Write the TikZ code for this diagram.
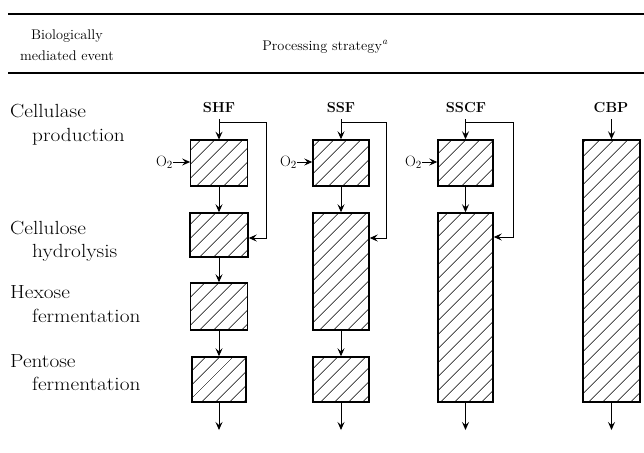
\documentclass[tikz,border=0pt]{standalone}
\usepackage{graphicx}
\usetikzlibrary{arrows.meta,patterns.meta}
\newcommand\biglbl[1]{\fontsize{19}{22}\selectfont\scalebox{1.12}[1]{#1}}
\newcommand\hdlbl[1]{\fontsize{14}{16}\selectfont\scalebox{1.03}[1]{#1}}
\tikzset{
  hatchbox/.style={draw, line width=1.4pt, inner sep=0pt,
    pattern={Lines[angle=45,distance=10.5pt,line width=0.7pt]}},
  arr/.style={line width=1pt, -{Stealth[length=8pt,width=7pt,inset=3pt]}},
  fbline/.style={line width=1pt, -{Stealth[length=8pt,width=7pt,inset=3pt]}},
  rowlbl/.style={anchor=base west, inner sep=0pt},
  strat/.style={anchor=base, inner sep=0pt, font=\fontsize{14.5}{16}\selectfont\bfseries},
  oxy/.style={anchor=east, inner sep=0pt, font=\fontsize{15}{17}\selectfont},
  rule/.style={line width=1.4pt}
}
\begin{document}
\begin{tikzpicture}[x=1pt,y=-1pt]
\useasboundingbox (0,0) rectangle (644,452);
% header rules
\coordinate (r1a) at (8,14); \coordinate (r1b) at (644,14);
\coordinate (r2a) at (8,73); \coordinate (r2b) at (644,73);
\draw[rule] (r1a) -- (r1b);
\draw[line width=1.1pt] (r2a) -- (r2b);
% header text
\node[anchor=base, inner sep=0pt] (h1) at (67,40) {\hdlbl{Biologically}};
\node[anchor=base, inner sep=0pt] (h2) at (67,60) {\hdlbl{mediated event}};
\node[anchor=base, inner sep=0pt] (h3) at (325,50) {\hdlbl{Processing strategy\textsuperscript{\itshape a}}};
% row labels
\node[rowlbl] (l1a) at (10,117) {\biglbl{Cellulase}};
\node[rowlbl] (l1b) at (32,141) {\biglbl{production}};
\node[rowlbl] (l2a) at (10,234) {\biglbl{Cellulose}};
\node[rowlbl] (l2b) at (32,257) {\biglbl{hydrolysis}};
\node[rowlbl] (l3a) at (10,298) {\biglbl{Hexose}};
\node[rowlbl] (l3b) at (32,322) {\biglbl{fermentation}};
\node[rowlbl] (l4a) at (10,367) {\biglbl{Pentose}};
\node[rowlbl] (l4b) at (32,390) {\biglbl{fermentation}};
% strategy labels
\node[strat] (tshf) at (219,112) {SHF};
\node[strat] (tssf) at (341,112) {SSF};
\node[strat] (tsscf) at (466,112) {SSCF};
\node[strat] (tcbp) at (611,112) {CBP};
% SHF boxes
\node[hatchbox, minimum width=57pt, minimum height=46pt] (s1) at (219,163) {};
\node[hatchbox, minimum width=58pt, minimum height=44pt] (s2) at (219,235) {};
\node[hatchbox, minimum width=57pt, minimum height=47pt] (s3) at (219,306.5) {};
\node[hatchbox, minimum width=54pt, minimum height=45pt] (s4) at (219,379.5) {};
% SSF boxes
\node[hatchbox, minimum width=56pt, minimum height=46pt] (f1) at (341,163) {};
\node[hatchbox, minimum width=56pt, minimum height=117pt] (f2) at (341,271.5) {};
\node[hatchbox, minimum width=56pt, minimum height=45pt] (f3) at (341,379.5) {};
% SSCF boxes
\node[hatchbox, minimum width=55pt, minimum height=46pt] (c1) at (465.5,163) {};
\node[hatchbox, minimum width=55pt, minimum height=189pt] (c2) at (465.5,307.5) {};
% CBP box
\node[hatchbox, minimum width=57pt, minimum height=262pt] (b1) at (611.5,271) {};
% top input arrows
\coordinate (ishf) at (219,119); \coordinate (issf) at (341,119);
\coordinate (isscf) at (465.5,119); \coordinate (icbp) at (611.5,119);
\draw[arr] (ishf) -- (s1.north);
\draw[arr] (issf) -- (f1.north);
\draw[arr] (isscf) -- (c1.north);
\draw[arr] (icbp) -- (b1.north);
% feedback loops
\coordinate (kshf) at (219,122); \coordinate (fshf) at (266,238);
\coordinate (kssf) at (341,122); \coordinate (fssf) at (386,238);
\coordinate (ksscf) at (465.5,122); \coordinate (fsscf) at (513,237);
\draw[fbline] (kshf) -| (fshf) -- (fshf -| s2.east);
\draw[fbline] (kssf) -| (fssf) -- (fssf -| f2.east);
\draw[fbline] (ksscf) -| (fsscf) -- (fsscf -| c2.east);
% chain arrows
\draw[arr] (s1) -- (s2);
\draw[arr] (s2) -- (s3);
\draw[arr] (s3) -- (s4);
\draw[arr] (f1) -- (f2);
\draw[arr] (f2) -- (f3);
\draw[arr] (c1) -- (c2);
% outputs
\coordinate (oshf) at (219,430); \coordinate (ossf) at (341,430);
\coordinate (osscf) at (465.5,430); \coordinate (ocbp) at (611.5,430);
\draw[arr] (s4) -- (oshf);
\draw[arr] (f3) -- (ossf);
\draw[arr] (c2) -- (osscf);
\draw[arr] (b1) -- (ocbp);
% oxygen inputs
\node[oxy] (os) at (173,162) {O$_2$};
\node[oxy] (of) at (297,162) {O$_2$};
\node[oxy] (oc) at (422,162) {O$_2$};
\draw[arr] (os.east) -- (os.east -| s1.west);
\draw[arr] (of.east) -- (of.east -| f1.west);
\draw[arr] (oc.east) -- (oc.east -| c1.west);
\end{tikzpicture}
\end{document}
